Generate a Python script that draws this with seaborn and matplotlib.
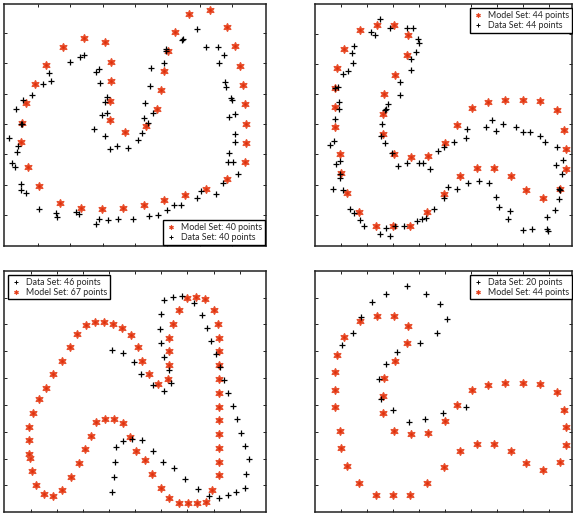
import numpy as np
import pandas as pd
import matplotlib
matplotlib.use("Agg")
import matplotlib.pyplot as plt
import seaborn as sns

# ---------------- data (arbitrary units, y grows downward) ----------------
# Panel 1
p1_model_x = [330, 330, 333, 333, 315, 252, 188, 139, 104, 79, 66, 63, 83, 117, 180, 242, 306, 368, 431, 493,
              556, 619, 682, 735, 738, 738, 735, 729, 719, 706, 682, 631, 568, 524, 503, 493, 483, 471, 437, 374]
p1_model_y = [360, 302, 243, 186, 127, 113, 140, 194, 252, 310, 368, 426, 501, 559, 608, 623, 626, 623, 614, 599,
              585, 566, 536, 487, 429, 371, 313, 256, 197, 139, 82, 29, 41, 96, 154, 212, 270, 328, 377, 397]
p1_data_x = [28, 47, 70, 96, 63, 66, 55, 52, 36, 46, 62, 63, 79,
             116, 169, 172, 228, 236, 289, 297, 323, 353, 400, 447, 475, 500, 522, 542, 592, 602, 647, 669,
             714, 684, 700, 687, 704, 704, 688, 704, 692, 697, 679, 675, 656, 671, 654, 618, 592, 548, 545,
             498, 498, 491, 453, 449, 436, 458, 432, 444, 425, 414, 384, 350, 329, 314, 282, 307, 320, 314,
             322, 300, 288, 296, 253, 240, 211, 152, 148, 130]
p1_data_y = [413, 326, 299, 286, 373, 371, 439, 457, 489, 502, 552, 570, 578,
             626, 639, 650, 636, 641, 671, 657, 661, 658, 658, 648, 645, 630, 616, 615, 594, 573, 583, 548,
             522, 486, 486, 458, 427, 403, 350, 341, 293, 300, 262, 245, 190, 165, 142, 142, 86, 118, 120,
             148, 152, 190, 205, 257, 308, 340, 354, 370, 399, 419, 443, 438, 447, 407, 388, 344, 340, 307,
             292, 248, 217, 207, 164, 170, 187, 243, 220, 253]

# Panel 2
p2_model_x = [225, 276, 327, 369, 365, 330, 297, 293, 293, 327, 379, 430, 481, 515, 560, 610, 661, 713, 764, 815,
              836, 843, 843, 825, 773, 723, 679, 628, 576, 524, 478, 427, 375, 323, 272, 222, 187, 168, 164, 149,
              149, 150, 157, 177]
p2_model_y = [90, 74, 74, 106, 165, 224, 283, 342, 401, 461, 472, 468, 430, 374, 323, 307, 299, 299, 303, 330,
              390, 448, 507, 567, 594, 571, 528, 503, 503, 528, 582, 637, 677, 677, 677, 637, 578, 520, 461, 382,
              322, 264, 204, 146]
p2_data_x = [285, 258, 271, 315, 367, 383, 400, 401, 393, 379, 379, 345, 345, 309, 303, 301, 292, 289, 301, 320,
             340, 367, 403, 415, 436, 458, 476, 508, 544, 547, 602, 621, 633, 654, 692, 713, 736, 766, 779, 816,
             833, 812, 831, 822, 826, 822, 809, 787, 786, 788, 742, 713, 670, 674, 643, 632, 613, 582, 550, 516,
             490, 476, 446, 422, 410, 397, 358, 330, 316, 302, 284, 237, 225, 208, 196, 175, 145, 166, 165, 152,
             164, 146, 135, 150, 161, 162, 160, 151, 173, 189, 203, 201, 207]
p2_data_y = [58, 96, 104, 85, 84, 84, 116, 128, 156, 178, 211, 246, 285, 313, 327, 330, 373, 408, 428, 459,
             498, 490, 490, 490, 508, 453, 442, 426, 414, 387, 382, 360, 392, 373, 382, 397, 397, 407, 427, 440,
             480, 495, 521, 568, 570, 597, 630, 650, 688, 692, 688, 690, 657, 634, 620, 590, 550, 543, 548, 566,
             562, 595, 628, 655, 658, 662, 679, 679, 708, 685, 703, 679, 661, 640, 628, 571, 567, 533, 521, 492,
             482, 424, 435, 357, 326, 306, 262, 263, 223, 212, 190, 160, 139]

# Panel 3
p3_data_x = [337, 370, 401, 424, 458, 491, 513, 506, 493, 482, 480, 483, 493, 520, 547, 583, 606, 622, 633, 647,
             659, 673, 685, 698, 711, 722, 735, 746, 739, 734, 709, 683, 657, 628, 595, 555, 522, 489, 459, 426,
             395, 370, 348, 345, 341, 336]
p3_data_y = [263, 272, 300, 336, 369, 386, 364, 323, 284, 244, 202, 157, 115, 105, 101, 124, 159, 198, 237, 277,
             316, 355, 394, 433, 472, 512, 551, 591, 636, 678, 690, 700, 708, 703, 681, 650, 617, 599, 566, 534,
             530, 537, 555, 600, 645, 689]
p3_model_x = [88, 88, 99, 116, 139, 160, 187, 209, 231, 257, 284, 311, 339, 366, 393, 414, 427, 448, 475, 503,
              508, 508, 508, 520, 536, 560, 587, 614, 642, 654, 657, 657, 657, 657, 657, 657, 657, 657, 657, 657,
              657, 635, 617, 590, 563, 536, 508, 484, 457, 436, 408, 391, 369, 342, 314, 288, 272, 254, 236, 212,
              187, 160, 133, 109, 97, 91, 88]
p3_model_y = [535, 494, 453, 411, 378, 337, 296, 255, 217, 189, 181, 181, 185, 199, 218, 255, 296, 336, 365, 351,
              309, 268, 227, 186, 144, 107, 106, 112, 145, 186, 227, 268, 309, 351, 393, 434, 475, 516, 557, 599,
              640, 683, 719, 723, 723, 723, 709, 678, 636, 595, 567, 525, 484, 470, 470, 480, 521, 562, 604, 646,
              683, 701, 695, 668, 627, 587, 576]

# Panel 4
p4_data_x = [366, 302, 424, 262, 466, 229, 487, 205, 457, 171, 405, 335, 304, 281, 287, 324, 373, 421, 475, 543]
p4_data_y = [72, 97, 97, 121, 125, 165, 171, 214, 214, 250, 243, 270, 307, 352, 410, 443, 480, 471, 453, 434]
p4_model_x = [226, 276, 327, 368, 365, 331, 297, 293, 293, 327, 379, 430, 481, 515, 560, 610, 661, 713, 764, 815,
              836, 843, 843, 825, 773, 723, 679, 628, 576, 524, 478, 427, 375, 323, 272, 222, 187, 168, 164, 149,
              149, 150, 157, 177]
p4_model_y = [177, 163, 163, 191, 243, 296, 348, 401, 454, 507, 516, 513, 478, 430, 383, 370, 362, 362, 367, 390,
              443, 495, 548, 600, 625, 604, 566, 545, 545, 566, 615, 663, 699, 699, 699, 663, 611, 558, 507, 436,
              384, 331, 279, 226]

legend_labels = {
    1: ("Model Set: 40 points", "Data Set: 40 points"),
    2: ("Model Set: 44 points", "Data Set: 44 points"),
    3: ("Data Set: 46 points", "Model Set: 67 points"),
    4: ("Data Set: 20 points", "Model Set: 44 points"),
}

# ---------------- layout ----------------
W, H = 573, 513
fig = plt.figure(figsize=(W / 100, H / 100), dpi=100)
sns.set_style("white")

RED = "#e0300c"
RED_EDGE = "#e8502e"


def add_ax(x0, y0, x1, y1):
    return fig.add_axes([x0 / W, 1 - y1 / H, (x1 - x0) / W, (y1 - y0) / H])


panels = [
    dict(px=(3.7, 3.7, 266.3, 245.7), lim=(11, 799, 737, 11),
         xt=[113, 210, 308, 405, 502, 600, 697], yt=[100, 190, 283, 373, 463, 555, 645]),
    dict(px=(315, 3.7, 572.3, 245.7), lim=(90, 862, 737, 11),
         xt=[167, 245, 323, 402, 480, 558, 636, 714, 792], yt=[103, 193, 283, 373, 463, 555, 645]),
    dict(px=(3.7, 271, 266.3, 512), lim=(11, 799, 750, 27),
         xt=[92, 170, 249, 327, 405, 484, 562, 641, 719], yt=[107, 187, 268, 349, 429, 510, 590, 670]),
    dict(px=(315, 271, 572.3, 512), lim=(90, 862, 750, 27),
         xt=[167, 245, 323, 402, 480, 558, 636, 714, 792], yt=[107, 187, 268, 349, 429, 510, 590, 670]),
]

series = {
    1: [("model", p1_model_x, p1_model_y), ("data", p1_data_x, p1_data_y)],
    2: [("model", p2_model_x, p2_model_y), ("data", p2_data_x, p2_data_y)],
    3: [("data", p3_data_x, p3_data_y), ("model", p3_model_x, p3_model_y)],
    4: [("data", p4_data_x, p4_data_y), ("model", p4_model_x, p4_model_y)],
}

legend_px = {  # (corner, x, y) in figure pixels
    1: ("lower right", 265.0, 244.5),
    2: ("upper right", 571.5, 8.5),
    3: ("upper left", 8.0, 275.0),
    4: ("upper right", 571.5, 275.0),
}

for i, p in enumerate(panels, start=1):
    ax = add_ax(*p["px"])
    handles = []
    labels = legend_labels[i]
    for k, (kind, xs, ys) in enumerate(series[i]):
        df = pd.DataFrame({"x": xs, "y": ys})
        if kind == "model":
            sns.scatterplot(data=df, x="x", y="y", ax=ax, marker=(6, 1, 0), s=30,
                            color=RED, edgecolor=RED_EDGE, linewidth=1.0, zorder=2)
        else:
            sns.scatterplot(data=df, x="x", y="y", ax=ax, marker="+", s=22,
                            color="black", linewidth=0.9, zorder=3)
        h = plt.Line2D([], [], linestyle="none",
                       marker=(6, 1, 0) if kind == "model" else "+",
                       markersize=3.4,
                       color=RED if kind == "model" else "black",
                       markeredgecolor=RED_EDGE if kind == "model" else "black",
                       markeredgewidth=0.6 if kind == "model" else 0.7)
        handles.append(h)
    x0, x1, yb, yt = p["lim"]
    ax.set_xlim(x0, x1)
    ax.set_ylim(yb, yt)
    ax.set_xticks(p["xt"])
    ax.set_yticks(p["yt"])
    ax.set_xticklabels([])
    ax.set_yticklabels([])
    ax.set_xlabel("")
    ax.set_ylabel("")
    ax.tick_params(direction="in", length=2.5, width=0.7, color="#222222",
                   top=True, right=True, bottom=True, left=True)
    for s in ax.spines.values():
        s.set_visible(True)
        s.set_color("#222222")
        s.set_linewidth(1.1)
    corner, lx, ly = legend_px[i]
    leg = ax.legend(handles, labels, loc=corner,
                    bbox_to_anchor=(lx / W, 1 - ly / H), bbox_transform=fig.transFigure,
                    prop={"family": "Lato", "size": 6.4}, frameon=True, fancybox=False,
                    borderpad=0.3, handlelength=1.2, handletextpad=0.5, labelspacing=0.12,
                    borderaxespad=0.0)
    leg.get_frame().set_edgecolor("black")
    leg.get_frame().set_linewidth(1.0)
    leg.get_frame().set_alpha(1.0)

fig.savefig("out.png", dpi=100)
